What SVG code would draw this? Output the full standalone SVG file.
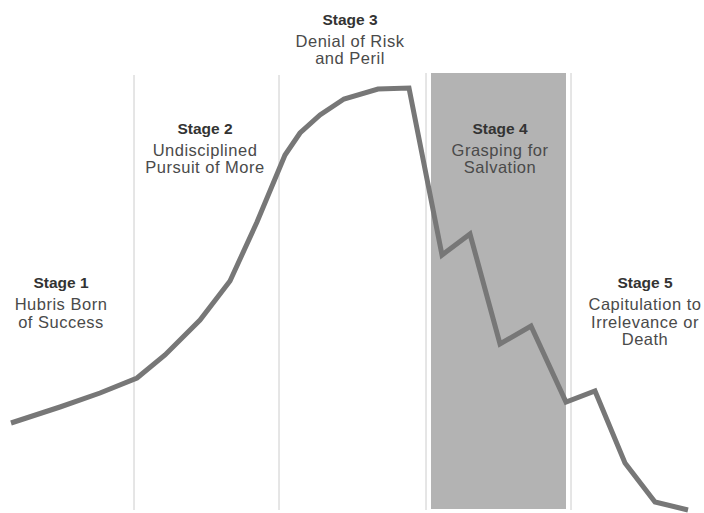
<svg xmlns="http://www.w3.org/2000/svg" width="704" height="513" viewBox="0 0 704 513">
<style>
.div{stroke:#cccccc;stroke-width:1;fill:none}
.t{font-family:"Liberation Sans",Arial,sans-serif;font-size:16.5px;letter-spacing:0.5px;fill:#4a4a4a;text-anchor:middle}
.h{font-weight:bold;font-size:15.5px;letter-spacing:0;fill:#333}
.curve{fill:none;stroke:#777777;stroke-width:5;stroke-linejoin:miter;stroke-linecap:butt}
</style>
<rect width="704" height="513" fill="#ffffff"/>
<rect id="stage4-band" x="431" y="73" width="135" height="436" fill="#b3b3b3"/>
<g id="dividers">
<line class="div" x1="134" y1="75" x2="134" y2="510"/>
<line class="div" x1="279" y1="75" x2="279" y2="510"/>
<line class="div" x1="426" y1="73" x2="426" y2="510"/>
<line class="div" x1="571" y1="73" x2="571" y2="510"/>
</g>
<g id="connectors">
<polyline class="curve" points="11,423 60,407 100,393 137,378 165,355 200,320 230,281 257,222 285,155 300,133 320,115 344,99 378,89 409,88 442,255 470,234 500,344 531,326 566,402 595,391 625,463 655,502 688,510"/>
</g>
<g id="stage1">
<text class="t h" x="61" y="288">Stage 1</text>
<text class="t" x="61" y="310">Hubris Born</text>
<text class="t" x="61" y="328">of Success</text>
</g>
<g id="stage2">
<text class="t h" x="205" y="134">Stage 2</text>
<text class="t" x="205" y="156">Undisciplined</text>
<text class="t" x="205" y="173">Pursuit of More</text>
</g>
<g id="stage3">
<text class="t h" x="350" y="25">Stage 3</text>
<text class="t" x="350" y="47">Denial of Risk</text>
<text class="t" x="350" y="64">and Peril</text>
</g>
<g id="stage4">
<text class="t h" x="500" y="134">Stage 4</text>
<text class="t" x="500" y="156">Grasping for</text>
<text class="t" x="500" y="173">Salvation</text>
</g>
<g id="stage5">
<text class="t h" x="645" y="288">Stage 5</text>
<text class="t" x="645" y="310">Capitulation to</text>
<text class="t" x="645" y="328">Irrelevance or</text>
<text class="t" x="645" y="345">Death</text>
</g>
</svg>
